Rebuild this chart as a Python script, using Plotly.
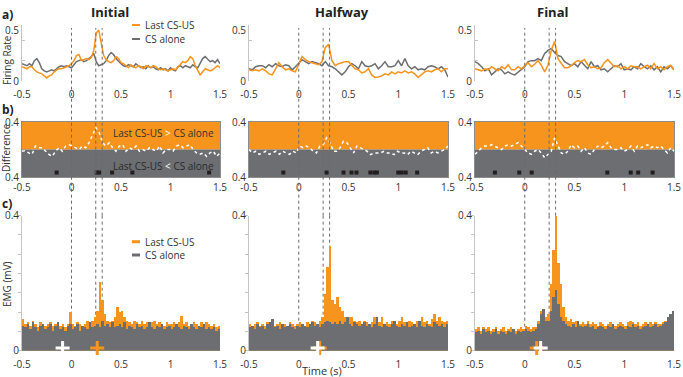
import numpy as np
import plotly.graph_objects as go

W, H = 683, 377
ORANGE = '#F7941D'
GREY = '#6D6E71'
FONT = 'Open Sans'
TXT = '#333333'

columns = ['Initial', 'Halfway', 'Final']

# ---- a) firing rates ----
fr_cs_us_initial = [0.14,0.13,0.12,0.14,0.14,0.11,0.09,0.08,0.07,0.05,
    0.03,0.05,0.06,0.09,0.11,0.12,0.12,0.13,0.14,0.15,
    0.17,0.20,0.25,0.26,0.20,0.21,0.22,0.21,0.23,0.30,
    0.47,0.50,0.36,0.25,0.21,0.19,0.18,0.20,0.24,0.22,
    0.18,0.17,0.15,0.13,0.16,0.14,0.13,0.15,0.14,0.12,
    0.15,0.14,0.13,0.15,0.14,0.12,0.11,0.12,0.11,0.10,
    0.11,0.12,0.11,0.14,0.17,0.19,0.18,0.20,0.24,0.22,
    0.15,0.10,0.06,0.09,0.12,0.11,0.10,0.11,0.13,0.15,0.13]
fr_cs_initial = [0.17,0.16,0.15,0.17,0.15,0.20,0.22,0.18,0.12,0.10,
    0.09,0.10,0.11,0.10,0.12,0.14,0.15,0.14,0.15,0.14,
    0.13,0.16,0.19,0.20,0.21,0.19,0.20,0.22,0.24,0.27,
    0.19,0.15,0.16,0.17,0.20,0.25,0.28,0.26,0.22,0.19,
    0.17,0.15,0.14,0.16,0.15,0.14,0.17,0.15,0.13,0.14,
    0.12,0.15,0.13,0.14,0.12,0.11,0.13,0.11,0.12,0.10,
    0.13,0.11,0.10,0.14,0.15,0.13,0.15,0.14,0.13,0.16,
    0.14,0.13,0.18,0.22,0.24,0.21,0.19,0.20,0.18,0.21,0.17]
fr_cs_us_halfway = [0.11,0.10,0.11,0.10,0.12,0.10,0.07,0.06,0.12,0.18,
    0.14,0.11,0.12,0.10,0.09,0.17,0.24,0.21,0.19,0.18,
    0.17,0.16,0.19,0.33,0.36,0.20,0.15,0.17,0.18,0.19,
    0.19,0.15,0.12,0.11,0.08,0.09,0.12,0.06,0.035,0.04,
    0.05,0.07,0.06,0.09,0.07,0.09,0.08,0.10,0.08,0.09,
    0.07,0.035,0.06,0.09,0.10,0.09,0.11,0.12,0.09,0.12,0.12]
fr_cs_halfway = [0.12,0.11,0.14,0.15,0.15,0.13,0.16,0.14,0.17,0.15,
    0.14,0.16,0.15,0.11,0.14,0.17,0.21,0.19,0.17,0.19,
    0.18,0.17,0.15,0.19,0.15,0.14,0.12,0.09,0.06,0.09,
    0.14,0.17,0.15,0.12,0.19,0.15,0.14,0.15,0.17,0.12,
    0.15,0.19,0.14,0.14,0.15,0.20,0.15,0.22,0.15,0.12,
    0.14,0.11,0.12,0.11,0.14,0.15,0.14,0.12,0.14,0.11,0.04]
fr_cs_us_final = [0.12,0.11,0.10,0.12,0.11,0.14,0.12,0.10,0.14,0.12,
    0.16,0.11,0.11,0.14,0.12,0.155,0.18,0.14,0.165,0.20,
    0.155,0.09,0.155,0.30,0.39,0.22,0.17,0.13,0.13,0.15,
    0.18,0.20,0.19,0.21,0.16,0.13,0.14,0.12,0.13,0.18,
    0.21,0.17,0.14,0.15,0.12,0.14,0.12,0.15,0.14,0.14,
    0.12,0.14,0.155,0.12,0.17,0.12,0.14,0.11,0.14,0.155,0.11]
fr_cs_final = [0.19,0.17,0.14,0.10,0.12,0.06,0.09,0.12,0.11,0.07,
    0.09,0.07,0.06,0.09,0.11,0.14,0.19,0.20,0.20,0.22,
    0.20,0.27,0.30,0.32,0.28,0.25,0.24,0.19,0.17,0.15,
    0.17,0.14,0.19,0.15,0.12,0.19,0.14,0.15,0.11,0.12,
    0.09,0.12,0.15,0.14,0.17,0.11,0.12,0.11,0.14,0.12,
    0.17,0.14,0.12,0.15,0.11,0.14,0.09,0.14,0.12,0.15,0.11]

# ---- b) difference (Last CS-US minus CS alone) ----
diff_initial = [-0.025,-0.015,-0.05,-0.07,0.05,0.025,0.025,-0.025,-0.07,-0.1,
    -0.025,0.025,-0.025,0.05,0.07,0.05,0.025,0.0,0.05,0.025,
    0.1,0.22,0.32,0.245,0.1,0.05,0.1,0.025,-0.025,0.05,
    0.07,-0.025,0.025,0.0,0.05,-0.025,0.0,-0.025,0.025,0.0,
    -0.025,0.05,-0.05,0.0,0.0,-0.025,0.05,0.07,0.025,0.05,
    0.07,0.0,-0.05,-0.07,-0.05,-0.1,-0.05,-0.025,-0.1,-0.05]
diff_halfway = [0.0,-0.05,-0.025,-0.07,-0.05,-0.025,-0.07,-0.05,-0.025,-0.07,
    -0.025,-0.05,-0.07,-0.025,-0.05,0.05,0.025,0.05,0.025,-0.025,
    -0.05,0.05,0.07,0.17,0.1,-0.025,-0.025,0.025,0.12,0.1,
    0.025,-0.05,0.05,0.025,0.0,-0.025,-0.075,-0.05,-0.05,-0.05,
    -0.025,-0.05,-0.05,-0.075,-0.025,-0.05,-0.05,-0.075,-0.025,-0.05,
    -0.075,-0.025,0.0,0.025,-0.05,-0.025,-0.05,-0.025,0.0,0.05]
diff_final = [-0.07,-0.025,0.025,0.05,0.05,0.07,0.05,0.025,0.0,0.05,
    0.07,0.05,0.07,0.1,0.05,0.0,-0.05,-0.07,-0.025,0.0,
    -0.05,-0.12,-0.07,-0.025,0.17,0.05,-0.05,-0.07,-0.025,0.07,
    0.025,0.05,-0.025,0.025,-0.05,-0.07,0.0,0.05,0.025,0.05,
    0.1,0.025,0.0,0.0,0.025,-0.025,0.0,0.05,-0.025,0.05,
    0.025,0.05,0.07,0.025,0.05,0.025,0.05,0.0,-0.05,0.025,-0.025]
sig_initial = [-0.15, 0.255, 0.28, 0.41, 0.615, 1.39]
sig_halfway = [-0.155, 0.28, 0.45, 0.53, 0.58, 0.72, 0.76, 0.785, 1.0, 1.035, 1.075, 1.19]
sig_final = [-0.3, -0.055, 0.07, 0.83, 1.065, 1.14, 1.285]
sig_level = -0.335

# ---- c) EMG (80 bins of 25 ms from -0.5 to 1.5 s) ----
emg_cs_us_initial = [0.095,0.08,0.085,0.075,0.09,0.08,0.07,0.085,0.08,0.075,
    0.08,0.085,0.075,0.08,0.085,0.075,0.08,0.07,0.08,0.115,
    0.08,0.075,0.085,0.08,0.075,0.08,0.09,0.085,0.09,0.1,
    0.12,0.205,0.15,0.11,0.09,0.085,0.09,0.1,0.13,0.115,
    0.12,0.1,0.09,0.085,0.08,0.09,0.085,0.08,0.09,0.08,
    0.085,0.08,0.085,0.09,0.08,0.085,0.08,0.075,0.085,0.08,
    0.08,0.085,0.08,0.085,0.105,0.08,0.085,0.075,0.08,0.085,
    0.08,0.075,0.085,0.08,0.085,0.08,0.075,0.08,0.07,0.075]
emg_cs_initial = [0.075,0.07,0.08,0.065,0.085,0.07,0.06,0.075,0.08,0.065,
    0.07,0.08,0.06,0.075,0.085,0.065,0.07,0.06,0.075,0.08,
    0.065,0.07,0.08,0.06,0.075,0.07,0.065,0.085,0.07,0.075,
    0.08,0.07,0.09,0.075,0.08,0.07,0.085,0.07,0.075,0.08,
    0.07,0.085,0.065,0.075,0.07,0.065,0.08,0.07,0.075,0.065,
    0.07,0.085,0.07,0.065,0.075,0.07,0.08,0.065,0.07,0.075,
    0.065,0.07,0.08,0.07,0.065,0.075,0.07,0.065,0.08,0.07,
    0.065,0.075,0.07,0.08,0.065,0.07,0.065,0.07,0.06,0.065]
emg_cs_us_halfway = [0.08,0.075,0.08,0.085,0.075,0.08,0.075,0.085,0.08,0.09,
    0.075,0.08,0.085,0.075,0.08,0.075,0.085,0.08,0.075,0.08,
    0.085,0.08,0.075,0.085,0.08,0.09,0.085,0.08,0.09,0.1,
    0.17,0.25,0.31,0.15,0.14,0.16,0.13,0.12,0.1,0.09,
    0.1,0.1,0.09,0.085,0.09,0.08,0.09,0.085,0.08,0.085,
    0.1,0.09,0.085,0.1,0.08,0.085,0.08,0.09,0.085,0.08,
    0.09,0.1,0.085,0.08,0.09,0.085,0.08,0.09,0.085,0.1,
    0.085,0.09,0.08,0.095,0.11,0.09,0.1,0.09,0.085,0.09]
emg_cs_halfway = [0.07,0.075,0.065,0.08,0.07,0.075,0.065,0.08,0.085,0.095,
    0.07,0.075,0.065,0.08,0.07,0.075,0.08,0.07,0.065,0.075,
    0.07,0.08,0.075,0.07,0.08,0.085,0.075,0.08,0.07,0.08,
    0.085,0.09,0.085,0.08,0.085,0.08,0.09,0.08,0.085,0.1,
    0.08,0.075,0.085,0.08,0.075,0.08,0.085,0.075,0.08,0.07,
    0.08,0.1,0.075,0.07,0.08,0.075,0.07,0.08,0.09,0.075,
    0.07,0.08,0.075,0.085,0.07,0.075,0.08,0.07,0.09,0.075,
    0.07,0.08,0.075,0.07,0.085,0.08,0.075,0.08,0.07,0.08]
emg_cs_us_final = [0.065,0.07,0.06,0.07,0.065,0.07,0.06,0.065,0.07,0.06,
    0.065,0.07,0.06,0.065,0.07,0.065,0.06,0.065,0.07,0.065,
    0.075,0.07,0.065,0.07,0.07,0.09,0.12,0.12,0.1,0.11,
    0.2,0.3,0.4,0.26,0.2,0.13,0.1,0.09,0.095,0.085,
    0.09,0.085,0.08,0.085,0.08,0.09,0.08,0.085,0.08,0.075,
    0.085,0.08,0.075,0.08,0.085,0.08,0.075,0.08,0.085,0.08,
    0.075,0.085,0.09,0.085,0.08,0.085,0.075,0.08,0.085,0.08,
    0.085,0.08,0.085,0.08,0.08,0.085,0.09,0.1,0.11,0.1]
emg_cs_final = [0.055,0.06,0.05,0.065,0.055,0.06,0.05,0.055,0.065,0.05,
    0.06,0.055,0.05,0.06,0.055,0.065,0.05,0.06,0.055,0.06,
    0.065,0.06,0.055,0.06,0.065,0.08,0.11,0.125,0.09,0.09,
    0.12,0.16,0.18,0.14,0.1,0.09,0.08,0.075,0.07,0.08,
    0.07,0.09,0.075,0.07,0.075,0.08,0.07,0.075,0.065,0.07,
    0.075,0.07,0.065,0.075,0.07,0.08,0.065,0.07,0.075,0.07,
    0.065,0.075,0.07,0.08,0.07,0.075,0.065,0.07,0.075,0.08,
    0.07,0.075,0.08,0.07,0.075,0.08,0.085,0.1,0.11,0.12]
emg_bin = 0.025

# onset markers (+) : [Last CS-US, CS alone]
onset_cs_us = [0.26, 0.21, 0.12]
onset_cs = [-0.09, 0.19, 0.16]
onset_level = 0.008

event_times = [0, 0.245, 0.31]
x_ticks = [-0.5, 0, 0.5, 1, 1.5]
x_ticktext = ['-0.5', '0', '0.5', '1', '1.5']

fr_cs_us = [fr_cs_us_initial, fr_cs_us_halfway, fr_cs_us_final]
fr_cs = [fr_cs_initial, fr_cs_halfway, fr_cs_final]
diffs = [diff_initial, diff_halfway, diff_final]
sigs = [sig_initial, sig_halfway, sig_final]
emg_us = [emg_cs_us_initial, emg_cs_us_halfway, emg_cs_us_final]
emg_cs = [emg_cs_initial, emg_cs_halfway, emg_cs_final]

# ---- layout geometry (pixels) ----
col_px = [(22, 220), (249, 448), (475, 674)]
title_px = [110, 342, 552]
row_px = {'a': (25, 81), 'b': (122, 177), 'c': (215.7, 350.7)}


def px_x(p):
    return p / W


def px_y(p):
    return 1 - p / H


def note(text, xp, yp, size=10, color=TXT, xanchor='center', **kw):
    return dict(text=text, xref='paper', yref='paper', x=px_x(xp), y=px_y(yp),
                xanchor=xanchor, yanchor='middle', showarrow=False,
                font=dict(size=size, color=color, family=FONT), **kw)


fig = go.Figure()
layout = dict(width=W, height=H, margin=dict(l=0, r=0, t=0, b=0, pad=0), autosize=False,
              template='none',
              paper_bgcolor='white', plot_bgcolor='rgba(0,0,0,0)', showlegend=False,
              bargap=0, barmode='overlay', font=dict(family=FONT, size=10, color=TXT))
shapes = []
annotations = []

for ci in range(3):
    for ri, row in enumerate(['a', 'b', 'c']):
        n = ri * 3 + ci + 1
        sfx = '' if n == 1 else str(n)
        xd = [px_x(col_px[ci][0]), px_x(col_px[ci][1])]
        yd = [px_y(row_px[row][1]), px_y(row_px[row][0])]
        xax = dict(domain=xd, anchor='y' + sfx, range=[-0.5, 1.5], tickvals=x_ticks,
                   ticktext=x_ticktext, showgrid=False, zeroline=False, ticks='',
                   automargin=False, ticklabelstandoff=6 if row != 'b' else 1,
                   tickfont=dict(size=10, color=TXT), showline=False)
        yax = dict(domain=yd, anchor='x' + sfx, showgrid=False, zeroline=False, ticks='',
                   automargin=False,
                   tickfont=dict(size=10, color=TXT), showline=True, linecolor='#c4c4c4',
                   linewidth=1)
        if row == 'a':
            yax.update(range=[0, 0.55], tickvals=[0, 0.5], ticktext=['0', '0.5'],
                       minor=dict(tickvals=[0.2, 0.4], ticks='inside', ticklen=3,
                                  tickcolor='#c4c4c4'))
        elif row == 'b':
            yax.update(range=[-0.4, 0.4], tickvals=[-0.4, 0.4], ticktext=['0.4', '0.4'],
                       mirror=True, linecolor='#8c8c8c')
            xax.update(showline=True, mirror=True, linecolor='#8c8c8c')
        else:
            yax.update(range=[0, 0.4], tickvals=[0, 0.4], ticktext=['0', '0.4'],
                       minor=dict(tick0=0, dtick=0.4 / 7, ticks='outside', ticklen=3,
                                  tickcolor='#c4c4c4'))
        layout['xaxis' + sfx] = xax
        layout['yaxis' + sfx] = yax

    # a) firing rate lines
    xa, ya = ('x', 'y') if ci == 0 else ('x' + str(ci + 1), 'y' + str(ci + 1))
    t_cs = np.linspace(-0.5, 1.5, len(fr_cs[ci]))
    t_us = np.linspace(-0.5, 1.5, len(fr_cs_us[ci]))
    fig.add_trace(go.Scatter(x=t_cs, y=fr_cs[ci], mode='lines', xaxis=xa, yaxis=ya,
                             line=dict(color=GREY, width=1.5), name='CS alone'))
    fig.add_trace(go.Scatter(x=t_us, y=fr_cs_us[ci], mode='lines', xaxis=xa, yaxis=ya,
                             line=dict(color=ORANGE, width=1.5), name='Last CS-US'))

    # b) difference panel
    nb = 3 + ci + 1
    xb, yb = 'x' + str(nb), 'y' + str(nb)
    shapes.append(dict(type='rect', xref=xb + ' domain', yref=yb, x0=0, x1=1, y0=0, y1=0.4,
                       fillcolor=ORANGE, line=dict(width=0), layer='below'))
    shapes.append(dict(type='rect', xref=xb + ' domain', yref=yb, x0=0, x1=1, y0=-0.4, y1=0,
                       fillcolor=GREY, line=dict(width=0), layer='below'))
    t_d = np.linspace(-0.5, 1.5, len(diffs[ci]))
    fig.add_trace(go.Scatter(x=t_d, y=diffs[ci], mode='lines', xaxis=xb, yaxis=yb,
                             line=dict(color='white', width=1.5, dash='dot')))
    fig.add_trace(go.Scatter(x=sigs[ci], y=[sig_level] * len(sigs[ci]), mode='markers',
                             xaxis=xb, yaxis=yb,
                             marker=dict(symbol='square', size=4, color='#231F20')))

    # c) EMG
    nc = 6 + ci + 1
    xc, yc = 'x' + str(nc), 'y' + str(nc)
    centers = -0.5 + emg_bin * (np.arange(len(emg_us[ci])) + 0.5)
    fig.add_trace(go.Bar(x=centers, y=emg_us[ci], width=emg_bin, xaxis=xc, yaxis=yc,
                         marker=dict(color=ORANGE, line=dict(width=0))))
    fig.add_trace(go.Bar(x=centers, y=emg_cs[ci], width=emg_bin, xaxis=xc, yaxis=yc,
                         marker=dict(color=GREY, line=dict(width=0))))
    fig.add_trace(go.Scatter(x=[onset_cs_us[ci]], y=[onset_level], mode='markers',
                             xaxis=xc, yaxis=yc, cliponaxis=False,
                             marker=dict(symbol='cross-thin', size=10,
                                         line=dict(color=ORANGE, width=3))))
    fig.add_trace(go.Scatter(x=[onset_cs[ci]], y=[onset_level], mode='markers',
                             xaxis=xc, yaxis=yc, cliponaxis=False,
                             marker=dict(symbol='cross-thin', size=10,
                                         line=dict(color='white', width=3))))

    # event lines
    for t in event_times:
        shapes.append(dict(type='line', xref=xa, yref='paper', x0=t, x1=t,
                           y0=px_y(row_px['c'][0]), y1=px_y(28),
                           line=dict(color='#6a6a6a', width=1, dash='dot'), layer='above'))
        shapes.append(dict(type='line', xref=xc, yref=yc + ' domain', x0=t, x1=t, y0=0, y1=1,
                           line=dict(color='#6a6a6a', width=1, dash='dot'), layer='below'))

    # column title
    annotations.append(note('<b>%s</b>' % columns[ci], title_px[ci], 12,
                            size=13, color='#222222'))

# panel letters
for lab, yp in [('a)', 15), ('b)', 109), ('c)', 203)]:
    annotations.append(note('<b>%s</b>' % lab, 0, yp, size=12, color='#222222',
                            xanchor='left'))

# axis titles
for lab, xp, yp in [('Firing Rate', 7, 60), ('Difference', 6, 148), ('EMG (mV)', 7, 284)]:
    annotations.append(note(lab, xp, yp, textangle=-90))
annotations.append(note('Time (s)', 322, 370, size=11))

# legends (a and c, first column)
for (y1, y2, lw) in [(25, 39, 2), (241.7, 255, 3)]:
    for yy, col, lab in [(y1, ORANGE, 'Last CS-US'), (y2, GREY, 'CS alone')]:
        shapes.append(dict(type='line', xref='paper', yref='paper', x0=px_x(132), x1=px_x(140),
                           y0=px_y(yy), y1=px_y(yy), line=dict(color=col, width=lw)))
        annotations.append(note(lab, 143, yy, xanchor='left'))

# b) region labels
annotations.append(note('Last CS-US <span style="color:white">&gt;</span> CS alone', 163, 133,
                        color='#333333'))
annotations.append(note('Last CS-US <span style="color:white">&lt;</span> CS alone', 163, 166,
                        color='#2a2a2a'))

layout['shapes'] = shapes
layout['annotations'] = annotations
fig.update_layout(**layout)
fig.write_html('out.html', config={'displayModeBar': False},
               post_script="document.body.style.margin='0px';")
